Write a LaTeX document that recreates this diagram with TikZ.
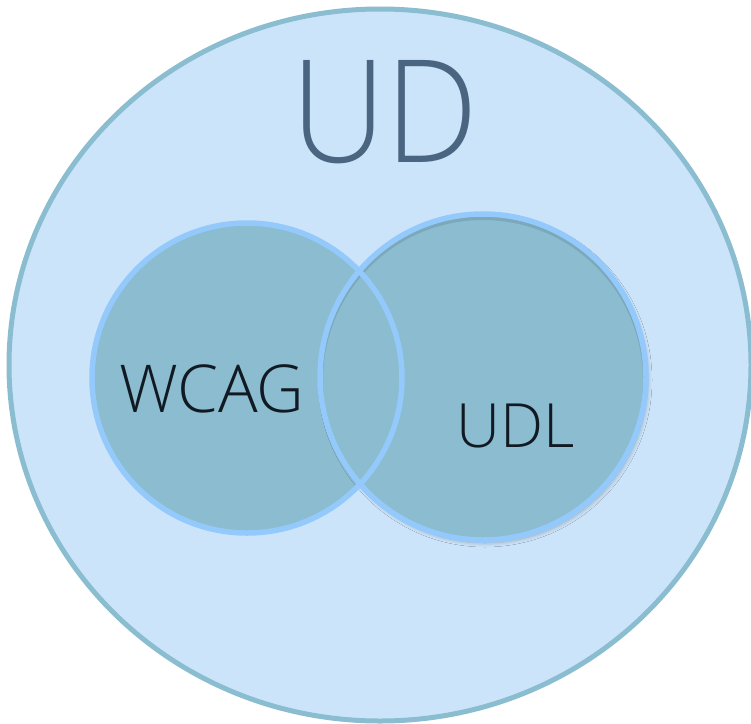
\documentclass[tikz,border=0pt]{standalone}
\usepackage{fontspec}
\setmainfont{Open Sans}[UprightFont=* Light]
\usetikzlibrary{shadows.blur,shapes.geometric}
\definecolor{outerfill}{HTML}{CCE4FA}
\definecolor{outerline}{HTML}{8BBDD0}
\definecolor{innerfill}{HTML}{8BBCD0}
\definecolor{innerline}{HTML}{94C9FB}
\definecolor{udtext}{HTML}{4A6580}
\definecolor{labeltext}{HTML}{111A22}
\begin{document}
\begin{tikzpicture}[x=1pt,y=-1pt,
  outerset/.style={ellipse, minimum width=742pt, minimum height=712pt, inner sep=0pt, draw=outerline, fill=outerfill, line width=5pt},
  innerset/.style={circle, inner sep=0pt, fill=innerfill},
  ringline/.style={circle, inner sep=0pt, draw=innerline, line width=5.5pt},
  lbl/.style={text=labeltext, inner sep=0pt}]
\useasboundingbox[fill=white] (0,0) rectangle (751,723);
\node[outerset] (ud) at (380,365) {};
% fills
\node[innerset, minimum size=310pt] (wcag) at (247,378) {};
\node[innerset, minimum size=326pt, blur shadow={shadow xshift=2pt, shadow yshift=-3pt, shadow blur steps=8, shadow blur radius=4pt, shadow opacity=25}] (udl) at (483,377) {};
% inner shadow near top of UDL
\begin{scope}
  \clip (483,377) circle (163);
  \draw[black, opacity=0.10, line width=6pt] (483,380) circle (163);
\end{scope}
% borders
\node[ringline, minimum size=310pt] (wcagb) at (247,378) {};
\node[ringline, minimum size=326pt] (udlb) at (483,377) {};
% labels
\node[text=udtext, inner sep=0pt, font=\fontsize{143}{150}\selectfont, anchor=base, xscale=0.92] (udt) at (385,162) {UD};
\node[lbl, font=\fontsize{66}{70}\selectfont, anchor=base] (wcagt) at (212,412) {WCAG};
\node[lbl, font=\fontsize{61}{66}\selectfont, anchor=base] (udlt) at (516,447) {UDL};
\end{tikzpicture}
\end{document}
